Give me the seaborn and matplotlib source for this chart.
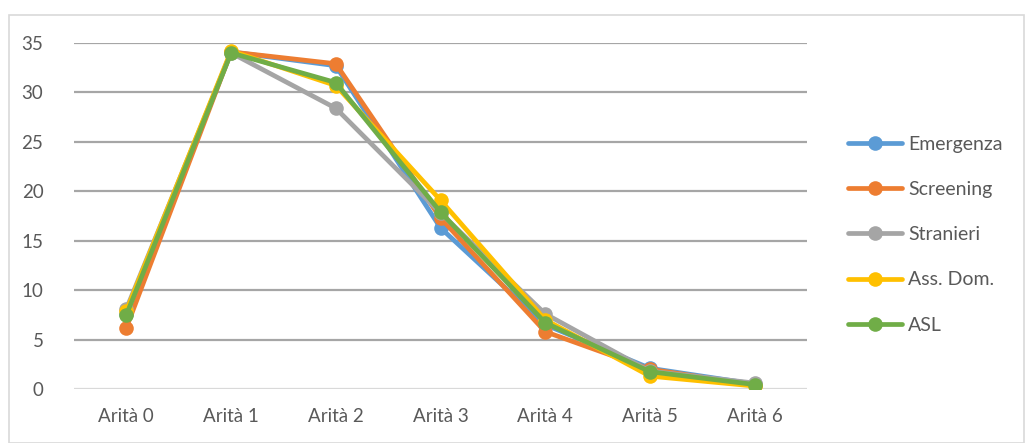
import matplotlib
matplotlib.use("Agg")
import matplotlib.pyplot as plt
from matplotlib.patches import Rectangle
import numpy as np
import pandas as pd
import seaborn as sns

categories = ["Arità 0", "Arità 1", "Arità 2", "Arità 3", "Arità 4", "Arità 5", "Arità 6"]
emergenza = [7.6, 34.1, 32.7, 16.3, 6.5, 2.1, 0.5]
screening = [6.2, 34.1, 32.9, 17.3, 5.8, 2.0, 0.4]
stranieri = [8.1, 34.0, 28.4, 17.8, 7.6, 1.8, 0.6]
ass_dom = [7.9, 34.2, 30.7, 19.1, 7.0, 1.3, 0.3]
asl = [7.5, 34.0, 31.0, 17.9, 6.7, 1.75, 0.45]

series_names = ["Emergenza", "Screening", "Stranieri", "Ass. Dom.", "ASL"]
series_values = [emergenza, screening, stranieri, ass_dom, asl]
colors = ["#5B9BD5", "#ED7D31", "#A5A5A5", "#FFC000", "#70AD47"]

rows = []
for name, vals in zip(series_names, series_values):
    for i, v in enumerate(vals):
        rows.append({"pos": i, "serie": name, "valore": v})
df = pd.DataFrame(rows)

sns.set_theme(style="white")
plt.rcParams["font.family"] = ["Lato", "DejaVu Sans"]

fig = plt.figure(figsize=(10.28, 4.43), dpi=100)
ax = fig.add_axes([74 / 1028, 1 - 389 / 443, (807 - 74) / 1028, (389 - 43) / 443])

text_color = "#595959"

for name, col in zip(series_names, colors):
    sub = df[df["serie"] == name]
    sns.lineplot(data=sub, x="pos", y="valore", ax=ax, color=col, linewidth=3.4,
                 marker="o", markersize=10.5, markeredgewidth=0, label=name,
                 solid_joinstyle="round", solid_capstyle="round", zorder=3)

ax.set_xlim(-0.5, len(categories) - 0.5)
ax.set_ylim(0, 35)
ax.set_yticks(np.arange(0, 36, 5))
ax.set_xticks(range(len(categories)))
ax.set_xticklabels(categories)
ax.set_xlabel("")
ax.set_ylabel("")

for y in range(5, 36, 5):
    ax.axhline(y, color="#A6A6A6", linewidth=1.6, zorder=1)
ax.axhline(0, color="#D9D9D9", linewidth=1.6, zorder=1)

for s in ax.spines.values():
    s.set_visible(False)

ax.tick_params(axis="both", length=0, labelsize=13.5, colors=text_color)
ax.tick_params(axis="y", pad=22)
ax.tick_params(axis="x", pad=14)

leg = ax.legend(loc="upper left", bbox_to_anchor=(840 / 1028, 1 - 128 / 443),
                bbox_transform=fig.transFigure, frameon=False, fontsize=14,
                handlelength=2.8, handletextpad=0.3, labelspacing=1.45,
                borderaxespad=0)
for t in leg.get_texts():
    t.set_color(text_color)

fig.patches.append(Rectangle((9 / 1028, 0), 1015 / 1028, 1 - 15 / 443,
                             transform=fig.transFigure, fill=False,
                             edgecolor="#D9D9D9", linewidth=1.2))

fig.savefig("out.png", dpi=100)
